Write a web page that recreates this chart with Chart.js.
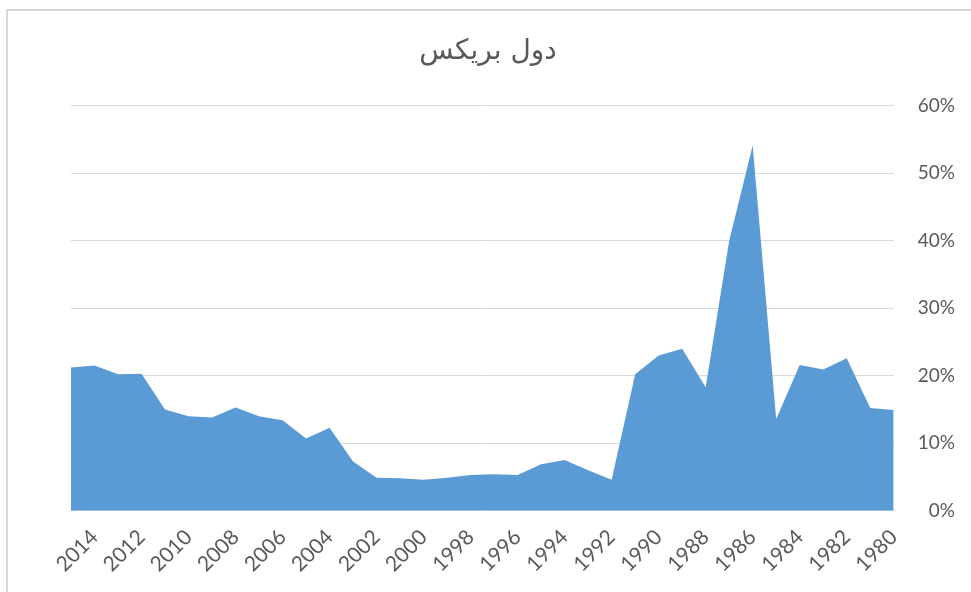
<!DOCTYPE html>
<html>
<head>
<meta charset="utf-8">
<script src="https://cdn.jsdelivr.net/npm/chart.js@4"></script>
<style>
  html, body { margin: 0; padding: 0; background: #fff; overflow: hidden; }
  #frame { position: absolute; left: 6px; top: 9px; width: 1000px; height: 650px; border: 2px solid #d9d9d9; box-sizing: border-box; }
  #wrap { position: absolute; left: 0; top: 0; width: 971px; height: 592px; }
</style>
</head>
<body>
<div id="frame"></div>
<div id="wrap"><canvas id="chart"></canvas></div>
<script>
// years run from newest to oldest, as in the original sheet
const years = [2015, 2014, 2013, 2012, 2011, 2010, 2009, 2008, 2007, 2006, 2005, 2004,
  2003, 2002, 2001, 2000, 1999, 1998, 1997, 1996, 1995, 1994, 1993, 1992,
  1991, 1990, 1989, 1988, 1987, 1986, 1985, 1984, 1983, 1982, 1981, 1980];
const brics = [21.2, 21.5, 20.2, 20.3, 15.0, 14.0, 13.8, 15.3, 14.0, 13.4, 10.7, 12.3,
  7.3, 4.9, 4.8, 4.6, 4.9, 5.3, 5.4, 5.3, 6.9, 7.5, 6.0, 4.6,
  20.2, 23.0, 24.0, 18.3, 40.0, 54.1, 13.6, 21.6, 20.9, 22.6, 15.2, 14.9];
const yTicks = [0, 10, 20, 30, 40, 50, 60];

const ctx = document.getElementById("chart").getContext("2d");
new Chart(ctx, {
  type: "line",
  data: {
    labels: years.map(String),
    datasets: [
      {
        label: "دول بريكس",
        data: brics,
        fill: "origin",
        backgroundColor: "#5b9bd5",
        borderWidth: 0,
        pointRadius: 0,
        tension: 0,
      },
    ],
  },
  options: {
    responsive: true,
    maintainAspectRatio: false,
    animation: false,
    layout: { padding: { left: 21, right: 16, top: 0, bottom: 1 } },
    plugins: {
      legend: { display: false },
      tooltip: { enabled: false },
      title: {
        display: true,
        text: "دول بريكس",
        color: "#595959",
        font: { family: "DejaVu Sans", size: 28, weight: "normal" },
        padding: { top: 35, bottom: 37 },
      },
    },
    scales: {
      x: {
        offset: false,
        grid: { display: false, drawTicks: false },
        border: { display: true, color: "#d9d9d9", width: 1 },
        ticks: {
          autoSkip: false,
          minRotation: 45,
          maxRotation: 45,
          padding: 14,
          color: "#595959",
          font: { family: "Lato", size: 21 },
          callback: (v, i) => (years[i] % 2 === 0 ? String(years[i]) : null),
        },
      },
      // empty axis, only keeps the left margin of the plot
      left: {
        position: "left",
        display: true,
        grid: { display: false, drawTicks: false },
        border: { display: false },
        ticks: { display: false },
        afterFit: (axis) => {
          axis.width = 50;
        },
      },
      y: {
        position: "right",
        min: 0,
        max: 60,
        afterBuildTicks: (axis) => {
          axis.ticks = yTicks.map((v) => ({ value: v }));
        },
        grid: { color: "#d9d9d9", lineWidth: 1, drawTicks: false },
        border: { display: false },
        ticks: {
          crossAlign: "far",
          padding: 12,
          color: "#595959",
          font: { family: "Lato", size: 19 },
          callback: (v) => v + "%",
        },
      },
    },
  },
});
</script>
</body>
</html>
